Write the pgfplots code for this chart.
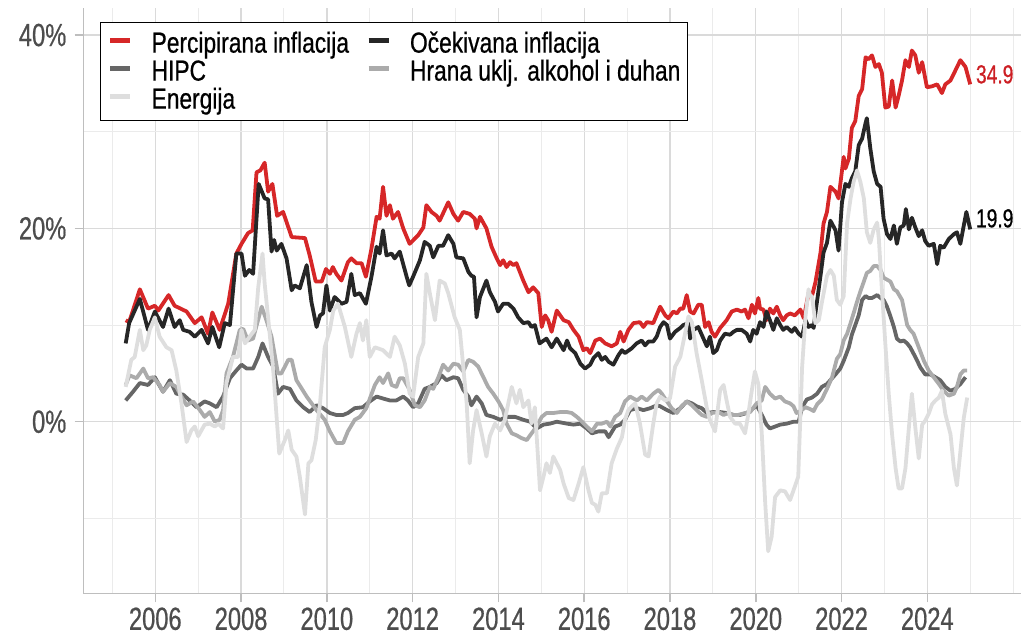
\documentclass[border=0pt]{standalone}
\usepackage{fontspec}
\setmainfont{Liberation Sans}[FakeStretch=0.74, FakeBold=0.6]
\newfontfamily\legfont{Liberation Sans}[FakeStretch=0.785, FakeBold=0.6]
\usepackage{pgfplots}
\pgfplotsset{compat=1.18}
\definecolor{cred}{HTML}{D62728}
\definecolor{cblack}{HTML}{262626}
\definecolor{chipc}{HTML}{666666}
\definecolor{chrana}{HTML}{ABABAB}
\definecolor{cenerg}{HTML}{DEDEDE}
\definecolor{axisgrey}{HTML}{BEBEBE}
\definecolor{gridmaj}{HTML}{DADADA}
\definecolor{gridmin}{HTML}{EBEBEB}
\definecolor{labgrey}{HTML}{4D4D4D}
\definecolor{labred}{HTML}{CC1F24}
\begin{document}
\begin{tikzpicture}
\begin{axis}[
  scale only axis, width=937.5pt, height=585.3pt,
  xmin=2004.326, xmax=2026.184, ymin=-17.75, ymax=42.8,
  axis lines=left,
  axis line style={-, draw=axisgrey, line width=1.5pt},
  xtick={2006,2008,...,2024},
  minor xtick={2005,2007,2009,2011,2013,2015,2017,2019,2021,2023,2025,2026},
  ytick={0,20,40},
  minor ytick={-10,10,30},
  grid=both,
  major grid style={draw=gridmaj, line width=1.3pt},
  minor grid style={draw=gridmin, line width=1pt},
  tick align=outside,
  major tick length=9pt,
  minor tick length=0pt,
  major tick style={draw=axisgrey, line width=1.5pt},
  /pgf/number format/assume math mode=true,
  /pgf/number format/1000 sep={},
  tick label style={font=\fontsize{32}{32}\selectfont, text=labgrey, inner sep=0pt},
  yticklabel style={xshift=-8pt},
  xticklabel style={yshift=-5pt},
  yticklabel={\pgfmathprintnumber{\tick}\%},
  legend columns=2,
  legend cell align=left,
  legend style={at={(0.0176,0.9761)}, anchor=north west, draw=black, line width=1.3pt, fill=white,
    inner xsep=7pt, inner ysep=7pt,
    font=\legfont\fontsize{29}{29}\selectfont,
    nodes={inner sep=0pt, text height=23pt, text depth=5pt},
    /tikz/every odd column/.style={column sep=19pt},
    /tikz/every even column/.style={column sep=17pt}},
  legend image code/.code={\draw[#1, line width=5pt, line cap=butt] (0pt,3pt) -- (20pt,3pt);},
  every axis plot/.append style={line width=3.8pt, line join=round},
]
% Percipirana inflacija
\addplot[cred] coordinates {
(2005.31,10.5)(2005.39,10.3)(2005.64,13.7)(2005.83,11.7)(2005.99,12.0)(2006.07,11.5)(2006.31,13.1)(2006.45,12.0)(2006.73,11.4)(2006.92,10.2)(2007.08,10.8)(2007.23,9.1)(2007.33,11.3)(2007.5,9.5)(2007.7,12.2)(2007.89,17.4)(2008.01,18.4)(2008.16,19.5)(2008.27,19.8)(2008.36,25.8)(2008.45,26.0)(2008.55,26.8)(2008.63,23.8)(2008.73,24.6)(2008.84,21.3)(2008.98,21.7)(2009.18,19.1)(2009.49,19.0)(2009.6,17.2)(2009.74,14.5)(2009.88,14.5)(2009.98,15.8)
(2010.07,15.3)(2010.14,16.0)(2010.22,15.3)(2010.34,14.6)(2010.49,16.5)(2010.57,16.9)(2010.69,16.4)(2010.81,16.4)(2010.91,15.0)(2011.04,17.9)(2011.16,21.2)(2011.23,21.0)(2011.31,24.3)(2011.39,21.3)(2011.47,22.4)(2011.54,21.0)(2011.66,21.7)(2011.78,20.0)(2011.93,18.4)(2012.13,19.3)(2012.25,20.1)(2012.32,22.4)(2012.44,21.7)(2012.56,21.3)(2012.63,20.8)(2012.83,22.7)(2012.95,21.5)(2013.06,20.8)(2013.18,21.7)(2013.33,21.5)(2013.45,21.0)(2013.49,20.0)(2013.57,21.2)(2013.72,20.0)(2013.84,18.1)(2013.96,16.9)(2014.04,16.2)(2014.11,16.7)(2014.19,16.0)(2014.27,16.5)(2014.35,16.2)(2014.42,16.4)(2014.58,14.6)(2014.7,13.4)(2014.81,13.9)(2014.93,13.3)(2015.01,9.8)(2015.09,11.0)(2015.16,10.5)(2015.24,9.3)(2015.36,11.5)
(2015.52,10.5)(2015.64,10.3)(2015.75,9.5)(2015.87,8.8)(2015.98,7.4)(2016.06,7.6)(2016.14,7.1)(2016.26,8.4)(2016.37,8.6)(2016.49,8.1)(2016.64,7.8)(2016.76,8.1)(2016.84,9.3)(2016.92,8.3)(2017.03,9.5)(2017.15,10.2)(2017.3,10.3)(2017.38,9.8)(2017.46,10.3)(2017.61,10.2)(2017.77,11.9)(2017.89,11.0)(2017.96,10.7)(2018.08,11.4)(2018.16,11.2)(2018.24,11.7)(2018.31,11.7)(2018.39,13.1)(2018.47,11.4)(2018.55,11.2)(2018.66,12.1)(2018.74,12.1)(2018.82,9.8)(2018.9,10.3)(2018.97,9.3)(2019.05,8.8)(2019.17,9.7)(2019.32,10.5)(2019.44,11.4)(2019.56,11.6)(2019.67,11.4)(2019.75,11.6)(2019.83,10.7)(2019.91,12.1)(2019.98,11.2)(2020.06,12.8)(2020.1,11.7)(2020.18,11.6)(2020.25,10.5)(2020.33,11.7)(2020.41,11.2)(2020.49,11.9)(2020.57,11.0)(2020.64,10.5)(2020.72,11.0)(2020.8,11.2)(2020.91,11.0)
(2021.04,11.6)(2021.12,10.7)(2021.23,13.3)(2021.31,13.0)(2021.39,14.4)(2021.51,17.5)(2021.58,20.5)(2021.66,21.7)(2021.74,24.3)(2021.86,23.8)(2021.93,23.1)(2022.05,27.4)(2022.09,26.2)(2022.17,27.2)(2022.24,30.4)(2022.32,31.1)(2022.4,33.7)(2022.48,34.4)(2022.56,37.7)(2022.63,37.5)(2022.71,37.9)(2022.79,36.7)(2022.87,37.0)(2022.94,36.1)(2023.02,32.5)(2023.1,32.6)(2023.18,35.3)(2023.26,32.5)(2023.33,33.7)(2023.41,35.3)(2023.49,37.4)(2023.57,36.7)(2023.64,38.4)(2023.72,37.9)(2023.8,36.1)(2023.88,37.2)(2023.99,34.6)(2024.11,34.7)(2024.23,34.9)(2024.34,34.0)(2024.42,34.9)(2024.54,35.3)(2024.65,36.3)(2024.77,37.4)(2024.89,36.7)(2025.0,34.9)
};
\addlegendentry{Percipirana inflacija}
% Ocekivana inflacija
\addplot[cblack] coordinates {
(2005.31,8.1)(2005.39,10.2)(2005.64,12.7)(2005.83,9.5)(2005.99,11.4)(2006.18,9.8)(2006.31,11.7)(2006.45,9.8)(2006.57,10.5)(2006.65,9.5)(2006.8,9.3)(2006.92,8.8)(2007.08,9.5)(2007.23,8.1)(2007.33,9.8)(2007.49,7.7)(2007.62,10.2)(2007.74,10.0)(2007.89,17.4)(2008.01,17.4)(2008.09,15.1)(2008.19,15.7)(2008.28,15.3)(2008.41,24.6)(2008.55,23.1)(2008.63,23.0)(2008.71,17.6)(2008.77,18.8)(2008.83,17.7)(2008.94,18.4)(2009.06,16.9)(2009.18,13.6)(2009.25,14.1)(2009.37,13.8)(2009.53,16.2)(2009.64,12.4)(2009.76,9.8)(2009.84,11.0)(2009.91,11.2)(2009.99,14.1)
(2010.07,11.5)(2010.18,12.9)(2010.34,12.2)(2010.46,12.4)(2010.57,15.3)(2010.65,13.1)(2010.77,13.3)(2010.91,12.2)(2011.04,15.0)(2011.16,18.1)(2011.23,17.4)(2011.31,19.8)(2011.39,17.2)(2011.51,17.4)(2011.58,16.9)(2011.7,17.6)(2011.86,15.0)(2011.92,14.1)(2012.01,15.0)(2012.17,16.7)(2012.28,18.6)(2012.4,18.2)(2012.48,17.0)(2012.6,18.2)(2012.71,18.2)(2012.83,19.3)(2012.95,18.4)(2013.02,17.0)(2013.18,16.9)(2013.3,15.5)(2013.37,15.1)(2013.43,15.0)(2013.49,10.8)(2013.57,12.9)(2013.72,14.6)(2013.8,13.4)(2013.92,12.4)(2013.99,11.4)(2014.11,12.2)(2014.23,12.2)(2014.35,11.7)(2014.46,10.8)(2014.58,10.2)(2014.7,10.3)(2014.77,9.8)(2014.85,10.0)(2014.96,8.1)(2015.12,8.6)(2015.24,7.7)(2015.36,8.6)
(2015.52,7.4)(2015.6,8.4)(2015.67,7.6)(2015.79,7.1)(2015.91,6.0)(2016.02,5.5)(2016.14,5.9)(2016.22,6.6)(2016.33,7.1)(2016.41,6.4)(2016.49,6.7)(2016.57,6.2)(2016.68,5.9)(2016.8,6.9)(2016.88,7.4)(2016.95,7.1)(2017.11,7.6)(2017.22,8.1)(2017.34,8.4)(2017.42,7.9)(2017.5,8.3)(2017.61,8.3)(2017.69,8.8)(2017.77,9.8)(2017.85,10.3)(2017.93,10.0)(2018.0,8.6)(2018.12,9.3)(2018.24,9.7)(2018.31,10.0)(2018.43,10.2)(2018.47,8.6)(2018.55,9.5)(2018.66,9.8)(2018.78,8.6)(2018.86,7.8)(2018.93,8.8)(2019.01,7.1)(2019.09,7.4)(2019.17,8.4)(2019.28,9.1)(2019.4,9.0)(2019.48,9.3)(2019.56,9.5)(2019.67,9.5)(2019.79,9.1)(2019.87,8.3)(2019.94,9.5)(2020.02,9.1)(2020.1,10.3)(2020.18,9.8)(2020.25,11.4)(2020.33,10.5)(2020.41,9.5)(2020.49,10.7)(2020.57,10.0)(2020.64,9.5)(2020.72,9.8)(2020.84,9.3)(2020.91,9.7)
(2021.0,9.1)(2021.08,8.8)(2021.16,10.5)(2021.23,9.8)(2021.31,10.0)(2021.35,9.7)(2021.39,11.2)(2021.51,15.1)(2021.58,17.5)(2021.66,18.5)(2021.74,20.8)(2021.86,19.8)(2021.93,17.7)(2022.01,22.7)(2022.09,24.6)(2022.17,24.3)(2022.24,25.2)(2022.32,25.9)(2022.4,28.6)(2022.48,29.3)(2022.56,30.9)(2022.59,31.4)(2022.67,28.3)(2022.75,25.9)(2022.83,24.6)(2022.91,24.3)(2022.98,21.0)(2023.06,19.4)(2023.14,18.9)(2023.22,20.3)(2023.29,18.4)(2023.37,20.1)(2023.45,20.3)(2023.5,22.0)(2023.57,19.9)(2023.64,21.1)(2023.72,20.1)(2023.8,19.2)(2023.88,19.8)(2023.95,18.7)(2024.03,18.2)(2024.15,18.4)(2024.23,16.3)(2024.3,18.2)(2024.38,18.0)(2024.5,18.9)(2024.62,19.4)(2024.69,19.6)(2024.77,18.4)(2024.85,20.3)(2024.91,21.7)(2025.0,19.9)
};
\addlegendentry{Očekivana inflacija}
% HIPC
\addplot[chipc] coordinates {
(2005.31,2.2)(2005.48,3.1)(2005.64,4.0)(2005.83,3.8)(2005.99,4.6)(2006.18,3.1)(2006.34,4.3)(2006.49,2.9)(2006.65,2.8)(2006.8,2.2)(2006.96,1.5)(2007.15,2.1)(2007.27,1.9)(2007.43,1.5)(2007.58,2.6)(2007.74,4.5)(2007.89,5.3)(2008.01,5.9)(2008.13,5.5)(2008.28,5.5)(2008.4,6.7)(2008.5,8.1)(2008.63,6.7)(2008.75,5.7)(2008.86,2.9)(2008.98,3.6)(2009.14,3.4)(2009.29,2.2)(2009.45,1.5)(2009.6,1.0)(2009.76,1.7)(2009.91,1.4)
(2010.07,0.9)(2010.22,0.7)(2010.38,0.7)(2010.49,0.9)(2010.65,1.4)(2010.84,1.5)(2011.0,2.1)(2011.16,2.6)(2011.31,2.4)(2011.47,2.2)(2011.62,2.2)(2011.78,2.6)(2011.89,2.2)(2012.01,1.5)(2012.13,1.9)(2012.28,3.4)(2012.4,3.6)(2012.56,4.0)(2012.67,4.8)(2012.79,4.3)(2012.95,4.6)(2013.06,4.5)(2013.18,3.3)(2013.3,2.6)(2013.37,1.7)(2013.49,2.6)(2013.61,1.9)(2013.72,0.7)(2013.88,0.5)(2014.04,0.2)(2014.19,0.5)(2014.39,0.5)(2014.58,0.2)(2014.74,0.0)(2014.89,-0.7)(2015.05,-0.3)(2015.2,-0.2)(2015.36,0.0)
(2015.6,-0.2)(2015.75,-0.3)(2015.91,-0.2)(2016.06,-0.7)(2016.18,-1.2)(2016.33,-1.0)(2016.49,-1.0)(2016.57,-1.6)(2016.72,-0.5)(2016.84,-0.3)(2016.95,0.2)(2017.07,1.2)(2017.23,1.4)(2017.38,1.2)(2017.54,1.4)(2017.69,1.7)(2017.77,1.6)(2017.93,1.2)(2018.08,0.9)(2018.24,1.4)(2018.39,2.1)(2018.51,1.9)(2018.62,1.6)(2018.74,1.4)(2018.86,0.9)(2019.01,1.0)(2019.17,1.0)(2019.32,0.9)(2019.48,0.7)(2019.63,0.7)(2019.79,0.9)(2019.94,1.4)(2020.02,1.7)(2020.14,0.7)(2020.25,-0.3)(2020.33,-0.7)(2020.45,-0.5)(2020.57,-0.3)(2020.72,-0.2)(2020.88,0.0)
(2021.0,0.0)(2021.08,1.5)(2021.19,2.3)(2021.31,2.5)(2021.43,2.9)(2021.54,3.6)(2021.66,3.9)(2021.74,4.3)(2021.86,4.9)(2021.97,5.5)(2022.05,6.3)(2022.17,7.7)(2022.24,9.0)(2022.32,10.0)(2022.4,11.0)(2022.48,12.6)(2022.56,13.0)(2022.63,12.8)(2022.71,12.8)(2022.83,13.1)(2022.91,12.8)(2022.98,12.6)(2023.06,11.9)(2023.14,10.9)(2023.22,9.8)(2023.29,8.6)(2023.37,8.3)(2023.45,8.4)(2023.53,8.1)(2023.6,7.7)(2023.72,6.7)(2023.84,5.6)(2023.95,4.9)(2024.07,4.9)(2024.19,4.6)(2024.3,4.3)(2024.42,3.6)(2024.54,3.2)(2024.65,3.4)(2024.77,3.9)(2024.89,4.6)
};
\addlegendentry{HIPC}
% Hrana
\addplot[chrana] coordinates {
(2005.31,3.8)(2005.4,4.8)(2005.56,4.5)(2005.72,5.5)(2005.83,4.5)(2005.95,4.6)(2006.1,3.8)(2006.18,3.1)(2006.34,4.0)(2006.49,3.6)(2006.61,2.6)(2006.73,1.7)(2006.88,2.1)(2007.04,1.2)(2007.15,0.5)(2007.27,1.0)(2007.39,0.0)(2007.5,0.2)(2007.58,1.2)(2007.66,5.0)(2007.81,6.7)(2007.97,9.5)(2008.05,9.6)(2008.16,8.4)(2008.28,8.6)(2008.48,11.9)(2008.59,10.5)(2008.71,8.8)(2008.86,5.0)(2008.94,5.0)(2009.1,6.4)(2009.18,6.4)(2009.29,4.3)(2009.53,2.6)(2009.76,1.2)(2009.95,0.2)
(2010.07,-1.0)(2010.22,-2.2)(2010.38,-2.2)(2010.49,-1.0)(2010.65,0.2)(2010.77,0.5)(2010.92,1.4)(2011.12,3.8)(2011.23,4.6)(2011.31,4.0)(2011.43,5.0)(2011.51,3.8)(2011.62,3.6)(2011.7,4.5)(2011.78,4.5)(2011.93,3.3)(2012.05,1.7)(2012.17,1.5)(2012.28,2.2)(2012.4,3.6)(2012.48,3.4)(2012.6,4.6)(2012.71,5.9)(2012.83,5.3)(2012.95,6.0)(2013.06,5.9)(2013.18,5.2)(2013.3,6.4)(2013.41,6.2)(2013.53,5.7)(2013.65,4.6)(2013.76,3.6)(2013.88,2.9)(2014.0,2.1)(2014.11,1.2)(2014.19,-0.2)(2014.31,-1.2)(2014.42,-1.4)(2014.54,-1.7)(2014.66,-1.9)(2014.74,-1.4)(2014.89,-0.5)(2015.01,0.5)(2015.12,0.9)(2015.28,0.9)(2015.44,1.0)
(2015.6,1.0)(2015.71,0.9)(2015.83,0.5)(2015.95,0.0)(2016.06,-0.5)(2016.18,-1.0)(2016.3,-0.2)(2016.41,-0.2)(2016.53,0.0)(2016.61,-0.5)(2016.72,0.5)(2016.84,0.9)(2016.95,2.1)(2017.07,2.6)(2017.23,2.2)(2017.34,2.6)(2017.46,2.2)(2017.61,2.9)(2017.73,3.3)(2017.81,2.9)(2017.93,2.1)(2018.04,1.4)(2018.16,0.9)(2018.27,1.6)(2018.39,2.1)(2018.51,1.7)(2018.62,1.2)(2018.74,0.7)(2018.86,0.5)(2018.97,0.9)(2019.13,1.0)(2019.25,0.7)(2019.36,0.9)(2019.48,0.7)(2019.59,0.7)(2019.75,0.9)(2019.87,1.0)(2020.02,1.9)(2020.14,2.2)(2020.22,3.6)(2020.33,2.9)(2020.45,2.4)(2020.57,2.6)(2020.68,2.1)(2020.8,1.9)(2020.88,1.6)(2020.95,0.9)
(2021.04,1.1)(2021.16,1.5)(2021.27,1.3)(2021.35,1.1)(2021.43,1.8)(2021.54,2.3)(2021.66,3.4)(2021.78,4.6)(2021.89,6.5)(2021.97,7.0)(2022.05,8.4)(2022.13,9.1)(2022.21,10.2)(2022.28,11.2)(2022.36,12.4)(2022.44,13.5)(2022.52,14.5)(2022.59,15.4)(2022.67,15.6)(2022.75,16.1)(2022.83,16.1)(2022.91,15.7)(2022.98,14.9)(2023.06,14.7)(2023.14,14.5)(2023.22,13.7)(2023.29,13.5)(2023.41,12.6)(2023.53,10.0)(2023.6,9.5)(2023.68,9.1)(2023.8,7.7)(2023.92,6.3)(2024.03,5.3)(2024.15,4.6)(2024.27,3.9)(2024.38,3.2)(2024.5,2.7)(2024.62,2.9)(2024.69,3.6)(2024.77,4.9)(2024.85,5.3)(2024.93,5.3)
};
\addlegendentry{Hrana uklj. alkohol i duhan}
% Energija
\addplot[cenerg] coordinates {
(2005.31,3.6)(2005.44,6.4)(2005.52,6.7)(2005.64,9.5)(2005.72,7.4)(2005.79,7.9)(2005.87,9.5)(2005.99,10.8)(2006.1,8.8)(2006.26,7.7)(2006.38,7.4)(2006.49,5.3)(2006.61,1.9)(2006.73,-2.1)(2006.84,-0.9)(2006.92,-0.5)(2007.0,-1.5)(2007.15,-0.3)(2007.27,-0.2)(2007.39,-0.5)(2007.47,-0.2)(2007.58,-0.7)(2007.66,4.0)(2007.81,6.7)(2007.93,6.7)(2008.01,9.5)(2008.09,8.1)(2008.2,8.8)(2008.32,9.5)(2008.4,13.9)(2008.5,17.4)(2008.55,14.3)(2008.63,10.8)(2008.75,5.3)(2008.89,-3.3)(2009.02,-1.9)(2009.1,-0.9)(2009.18,-2.9)(2009.29,-3.6)(2009.37,-5.7)(2009.49,-9.6)(2009.57,-4.3)(2009.64,-4.0)(2009.74,-1.9)(2009.84,1.9)(2009.95,7.7)
(2010.07,9.5)(2010.15,11.5)(2010.26,12.2)(2010.42,9.8)(2010.57,6.7)(2010.69,9.1)(2010.77,10.2)(2010.84,8.4)(2010.92,10.5)(2011.0,6.7)(2011.12,7.7)(2011.31,7.4)(2011.47,6.7)(2011.58,8.8)(2011.7,7.9)(2011.82,6.0)(2011.93,2.9)(2012.01,2.6)(2012.13,6.7)(2012.25,8.1)(2012.32,15.3)(2012.4,13.3)(2012.52,10.5)(2012.63,14.6)(2012.75,14.3)(2012.83,13.3)(2012.98,10.8)(2013.1,9.5)(2013.26,1.9)(2013.33,-4.3)(2013.41,-0.9)(2013.49,1.2)(2013.61,-1.2)(2013.72,-3.6)(2013.8,-1.5)(2013.92,-0.2)(2014.04,-0.9)(2014.15,0.2)(2014.31,3.6)(2014.42,1.9)(2014.5,3.3)(2014.58,1.5)(2014.7,2.2)(2014.77,-0.2)(2014.85,1.5)(2014.97,-7.1)(2015.05,-5.7)(2015.12,-4.3)(2015.2,-5.3)(2015.28,-3.6)(2015.44,-5.0)
(2015.52,-6.4)(2015.64,-7.9)(2015.75,-8.1)(2015.87,-6.4)(2015.98,-4.7)(2016.1,-7.1)(2016.18,-8.4)(2016.26,-8.6)(2016.33,-9.3)(2016.41,-7.4)(2016.53,-7.4)(2016.64,-4.3)(2016.76,-2.8)(2016.88,-1.6)(2016.95,0.2)(2017.03,1.2)(2017.11,1.6)(2017.19,1.9)(2017.3,-0.2)(2017.42,-3.4)(2017.5,-3.6)(2017.61,-0.2)(2017.69,1.9)(2017.77,2.6)(2017.89,2.2)(2018.0,2.4)(2018.12,5.7)(2018.24,6.7)(2018.35,9.1)(2018.43,10.9)(2018.51,10.3)(2018.62,7.1)(2018.74,4.3)(2018.86,1.4)(2018.93,0.2)(2019.05,-1.0)(2019.17,3.3)(2019.25,3.8)(2019.32,2.2)(2019.4,0.5)(2019.52,-0.2)(2019.63,-0.2)(2019.75,-1.2)(2019.83,0.9)(2019.91,3.3)(2019.98,5.2)(2020.06,3.9)(2020.14,-1.2)(2020.22,-8.4)(2020.29,-13.4)(2020.37,-11.9)(2020.45,-7.8)(2020.57,-7.1)(2020.68,-7.2)(2020.8,-8.1)(2020.88,-7.1)(2020.99,-5.7)
(2021.08,5.6)(2021.16,10.9)(2021.23,13.7)(2021.27,13.0)(2021.31,13.0)(2021.39,10.2)(2021.47,10.5)(2021.54,12.3)(2021.66,15.1)(2021.74,15.7)(2021.82,15.1)(2021.89,12.6)(2021.97,12.1)(2022.05,13.0)(2022.13,20.6)(2022.21,23.1)(2022.28,24.8)(2022.36,26.0)(2022.44,24.8)(2022.52,23.1)(2022.59,19.6)(2022.67,18.5)(2022.75,19.9)(2022.83,20.6)(2022.87,18.9)(2022.94,13.7)(2023.02,8.1)(2023.1,2.9)(2023.18,-1.4)(2023.26,-4.8)(2023.33,-6.9)(2023.41,-6.9)(2023.49,-4.8)(2023.57,-0.6)(2023.64,2.9)(2023.72,-0.6)(2023.8,-3.8)(2023.88,-0.3)(2023.95,0.1)(2024.03,0.8)(2024.11,1.8)(2024.19,2.2)(2024.27,2.5)(2024.34,3.2)(2024.42,0.8)(2024.54,-1.3)(2024.62,-4.8)(2024.69,-6.6)(2024.77,-3.1)(2024.85,0.4)(2024.93,2.5)
};
\addlegendentry{Energija}
\node[anchor=west, inner sep=0pt, text=labred, font=\fontsize{26}{26}\selectfont, yshift=10pt] at (axis cs:2025.13,34.9) {34.9};
\node[anchor=west, inner sep=0pt, text=black, font=\fontsize{26}{26}\selectfont, yshift=11pt] at (axis cs:2025.13,19.9) {19.9};
\end{axis}
\pgfresetboundingbox
\path (-83.5pt,-41.7pt) rectangle (937.5pt,593.3pt);
\end{tikzpicture}
\end{document}
